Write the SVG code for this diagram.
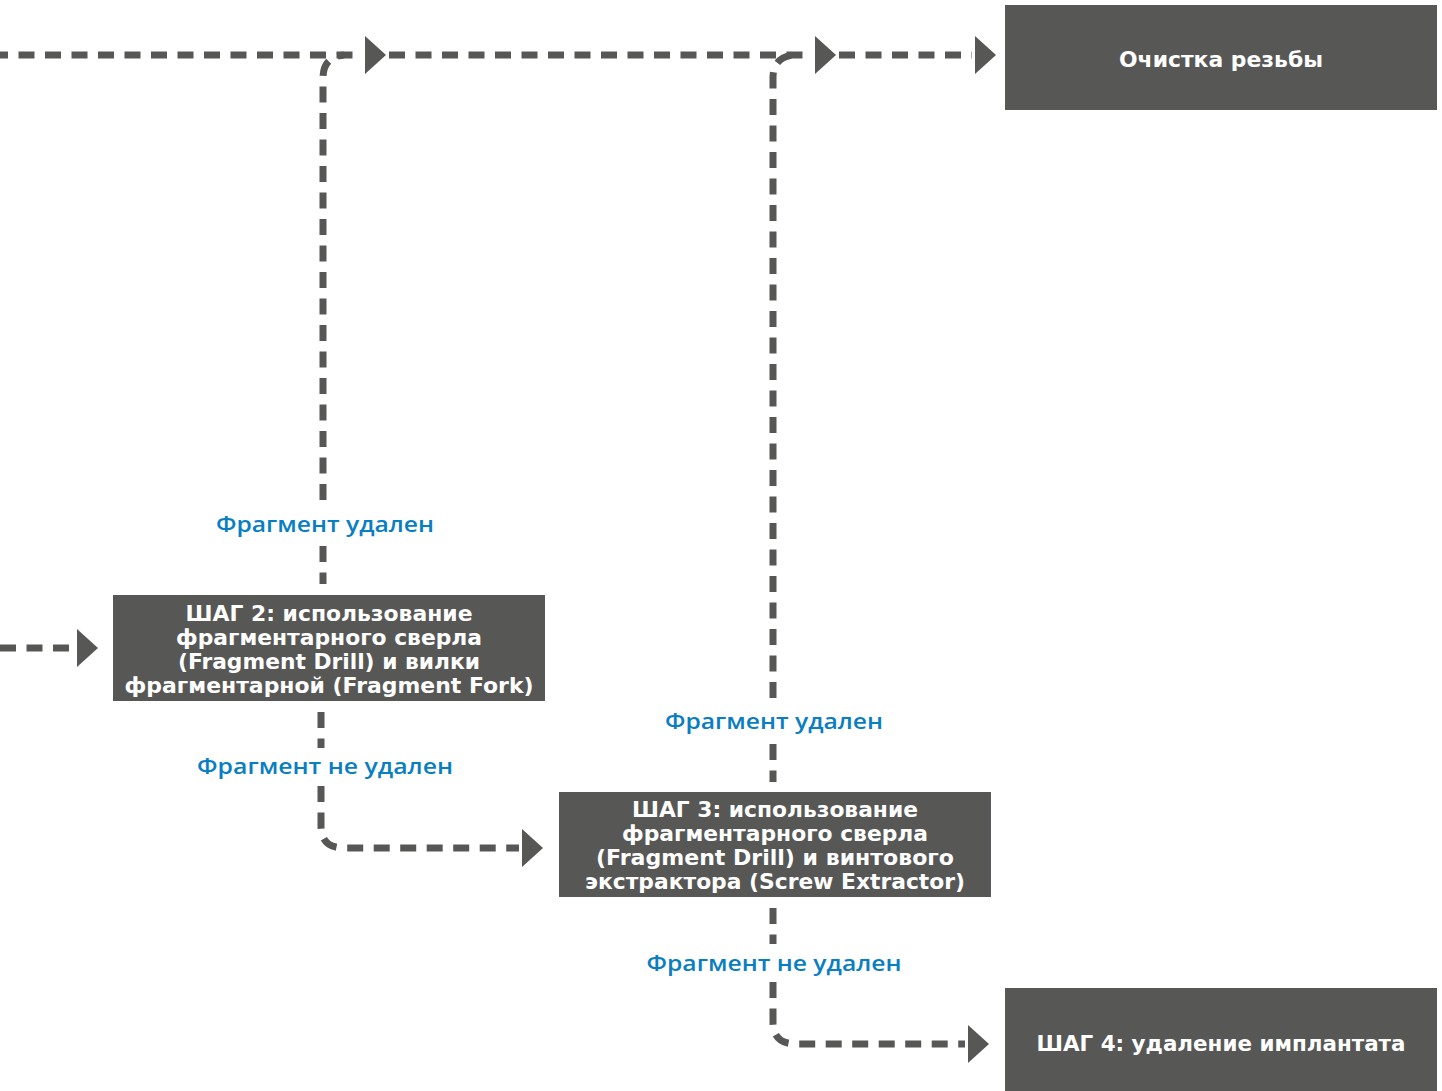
<svg xmlns="http://www.w3.org/2000/svg" width="1442" height="1091" viewBox="0 0 1442 1091">
<style>
.box{fill:#575756}
.bt{fill:#ffffff;font-family:"DejaVu Sans",sans-serif;font-weight:bold;font-size:21px;text-anchor:middle}
.lbl{fill:#0a7ec2;font-family:"Open Sans","DejaVu Sans",sans-serif;font-weight:600;font-size:21px;text-anchor:middle}
.dl{fill:none;stroke:#575756;stroke-width:7;stroke-dasharray:16 10.5}
.ah{fill:#575756}
</style>
<rect width="1442" height="1091" fill="#ffffff"/>
<g id="connectors">
  <path class="dl" d="M-8,55 H362"/>
  <path class="dl" d="M389,55 H812"/>
  <path class="dl" d="M839,55 H972"/>
  <path class="dl" d="M0,648 H74"/>
  <path class="dl" d="M323,500 V78 Q323,57 344,55"/>
  <path class="dl" d="M323,546 V584"/>
  <path class="dl" d="M773,698 V78 Q773,57 794,55"/>
  <path class="dl" d="M773,744 V782"/>
  <path class="dl" d="M321,712 V748"/>
  <path class="dl" d="M321,786 V826 Q321,848 344,848 H519"/>
  <path class="dl" d="M773,908 V944"/>
  <path class="dl" d="M773,982 V1022 Q773,1044 796,1044 H965"/>
  <polygon class="ah" points="365,36 386,55 365,74"/>
  <polygon class="ah" points="815,36 836,55 815,74"/>
  <polygon class="ah" points="975,36 996,55 975,74"/>
  <polygon class="ah" points="77,629 98,648 77,667"/>
  <polygon class="ah" points="522,829 543,848 522,867"/>
  <polygon class="ah" points="968,1025 989,1044 968,1063"/>
  <text class="lbl" x="325" y="532" textLength="218" lengthAdjust="spacingAndGlyphs">Фрагмент удален</text>
  <text class="lbl" x="774" y="729" textLength="218" lengthAdjust="spacingAndGlyphs">Фрагмент удален</text>
  <text class="lbl" x="325" y="774" textLength="256" lengthAdjust="spacingAndGlyphs">Фрагмент не удален</text>
  <text class="lbl" x="774" y="971" textLength="255" lengthAdjust="spacingAndGlyphs">Фрагмент не удален</text>
</g>
<g id="node-cleaning">
  <rect class="box" x="1005" y="5" width="432" height="105"/>
  <text class="bt" x="1221" y="67" textLength="204" lengthAdjust="spacingAndGlyphs">Очистка резьбы</text>
</g>
<g id="node-step2">
  <rect class="box" x="113" y="595" width="432" height="106"/>
  <text class="bt" x="329" y="621" textLength="287" lengthAdjust="spacingAndGlyphs">ШАГ 2: использование</text>
  <text class="bt" x="329" y="645" textLength="306" lengthAdjust="spacingAndGlyphs">фрагментарного сверла</text>
  <text class="bt" x="329" y="669" textLength="302" lengthAdjust="spacingAndGlyphs">(Fragment Drill) и вилки</text>
  <text class="bt" x="329" y="693" textLength="409" lengthAdjust="spacingAndGlyphs">фрагментарной (Fragment Fork)</text>
</g>
<g id="node-step3">
  <rect class="box" x="559" y="792" width="432" height="105"/>
  <text class="bt" x="775" y="817" textLength="286" lengthAdjust="spacingAndGlyphs">ШАГ 3: использование</text>
  <text class="bt" x="775" y="841" textLength="306" lengthAdjust="spacingAndGlyphs">фрагментарного сверла</text>
  <text class="bt" x="775" y="865" textLength="358" lengthAdjust="spacingAndGlyphs">(Fragment Drill) и винтового</text>
  <text class="bt" x="775" y="889" textLength="380" lengthAdjust="spacingAndGlyphs">экстрактора (Screw Extractor)</text>
</g>
<g id="node-step4">
  <rect class="box" x="1005" y="988" width="432" height="103"/>
  <text class="bt" x="1221" y="1051" textLength="369" lengthAdjust="spacingAndGlyphs">ШАГ 4: удаление имплантата</text>
</g>
</svg>
